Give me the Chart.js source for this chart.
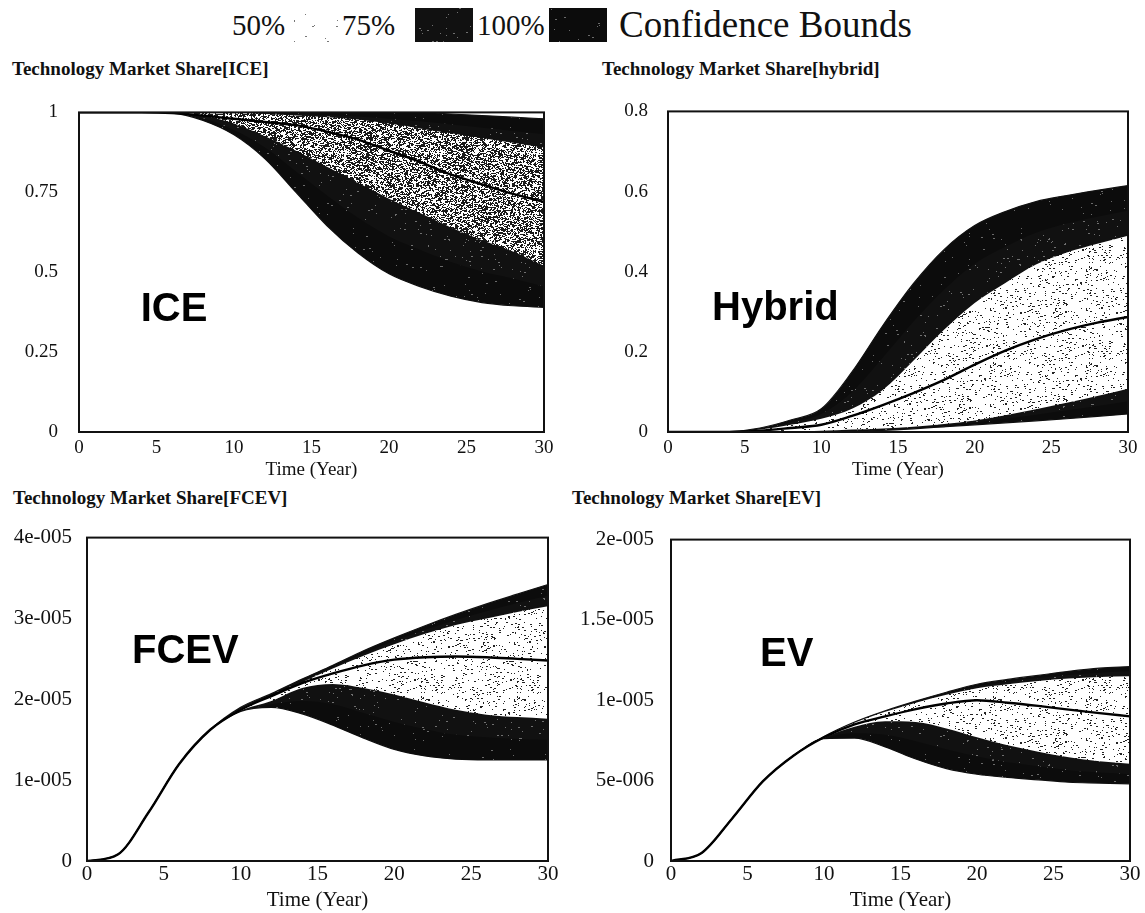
<!DOCTYPE html>
<html>
<head>
<meta charset="utf-8">
<script src="https://cdn.jsdelivr.net/npm/chart.js@4.4.1/dist/chart.umd.min.js"></script>
<style>
  body { margin: 0; background: #fff; width: 1145px; height: 913px; position: relative; overflow: hidden;
         font-family: "Liberation Serif", "Times New Roman", serif; color: #111; }
  canvas { position: absolute; }
  .panel-title { position: absolute; font-size: 19px; font-weight: bold; line-height: 20px; white-space: nowrap; }
  .lg-text { position: absolute; top: 8px; font-size: 29px; line-height: 34px; white-space: nowrap; }
  .lg-title { position: absolute; top: 4px; font-size: 37px; line-height: 42px; white-space: nowrap; }
  .lg-box { position: absolute; top: 8px; height: 34px; width: 58px; }
</style>
</head>
<body>
<div id="legend">
  <span class="lg-text" style="left:232px">50%</span>
  <div class="lg-box" id="box50" style="left:290px;width:48px"></div>
  <span class="lg-text" style="left:342px">75%</span>
  <div class="lg-box" id="box75" style="left:415px"></div>
  <span class="lg-text" style="left:477px">100%</span>
  <div class="lg-box" id="box100" style="left:549px"></div>
  <span class="lg-title" style="left:619px">Confidence Bounds</span>
</div>

<div class="panel-title" style="left:12px;top:59px">Technology Market Share[ICE]</div>
<div class="panel-title" style="left:602px;top:59px">Technology Market Share[hybrid]</div>
<div class="panel-title" style="left:13px;top:488px">Technology Market Share[FCEV]</div>
<div class="panel-title" style="left:572px;top:488px">Technology Market Share[EV]</div>

<canvas id="iceChart" width="572" height="410" style="left:0;top:80px"></canvas>
<canvas id="hybridChart" width="573" height="410" style="left:572px;top:80px"></canvas>
<canvas id="fcevChart" width="572" height="403" style="left:0;top:510px"></canvas>
<canvas id="evChart" width="573" height="403" style="left:572px;top:510px"></canvas>

<script>
// simulation time, years
const years = [0, 2, 4, 6, 8, 10, 12, 14, 16, 18, 20, 22, 24, 26, 28, 30];
const xTicks = [0, 5, 10, 15, 20, 25, 30];

// ICE market share (fraction)
const ice100U = [1, 1, 1, 1, 1, 1, 1, 1, 1, 1, 1, 1, 0.995, 0.99, 0.985, 0.98];
const ice75U  = [1, 1, 1, 1, 1, 1, 0.998, 0.995, 0.992, 0.987, 0.98, 0.972, 0.962, 0.952, 0.942, 0.932];
const ice50U  = [1, 1, 1, 1, 1, 1, 0.995, 0.99, 0.985, 0.978, 0.965, 0.95, 0.935, 0.92, 0.905, 0.89];
const iceMed  = [1, 1, 1, 0.998, 0.99, 0.98, 0.97, 0.96, 0.94, 0.915, 0.88, 0.845, 0.805, 0.775, 0.745, 0.72];
const ice50L  = [1, 1, 1, 0.999, 0.99, 0.965, 0.925, 0.88, 0.83, 0.78, 0.73, 0.685, 0.64, 0.6, 0.565, 0.52];
const ice75L  = [1, 1, 1, 0.999, 0.982, 0.945, 0.89, 0.815, 0.74, 0.67, 0.612, 0.57, 0.532, 0.502, 0.48, 0.455];
const ice100L = [1, 1, 1, 0.998, 0.975, 0.93, 0.855, 0.75, 0.645, 0.56, 0.495, 0.455, 0.425, 0.405, 0.395, 0.39];
const iceTicks = [0, 0.25, 0.5, 0.75, 1];
const iceTickLabels = ['0', '0.25', '0.5', '0.75', '1'];

// hybrid market share (fraction)
const hyb100U = [0, 0, 0.001, 0.01, 0.03, 0.058, 0.15, 0.265, 0.37, 0.455, 0.515, 0.55, 0.575, 0.59, 0.603, 0.615];
const hyb75U  = [0, 0, 0.001, 0.008, 0.024, 0.045, 0.1, 0.185, 0.275, 0.355, 0.42, 0.462, 0.497, 0.52, 0.537, 0.553];
const hyb50U  = [0, 0, 0, 0.006, 0.018, 0.033, 0.058, 0.105, 0.178, 0.255, 0.322, 0.372, 0.418, 0.448, 0.47, 0.49];
const hybMed  = [0, 0, 0, 0.003, 0.01, 0.018, 0.04, 0.067, 0.097, 0.13, 0.168, 0.203, 0.232, 0.255, 0.273, 0.287];
const hyb50L  = [0, 0, 0, 0, 0.001, 0.003, 0.006, 0.009, 0.013, 0.02, 0.029, 0.042, 0.057, 0.073, 0.09, 0.108];
const hyb75L  = [0, 0, 0, 0, 0.001, 0.002, 0.004, 0.007, 0.011, 0.017, 0.024, 0.033, 0.043, 0.054, 0.065, 0.077];
const hyb100L = [0, 0, 0, 0, 0, 0.001, 0.002, 0.004, 0.008, 0.013, 0.018, 0.023, 0.028, 0.033, 0.039, 0.045];
const hybTicks = [0, 0.2, 0.4, 0.6, 0.8];
const hybTickLabels = ['0', '0.2', '0.4', '0.6', '0.8'];

// FCEV market share, in units of 1e-5
const FCEV_UNIT = 1e-5;
const fcev100U = [0, 0.08, 0.6, 1.2, 1.62, 1.9, 2.07, 2.25, 2.42, 2.6, 2.76, 2.91, 3.05, 3.18, 3.3, 3.42];
const fcev75U  = [0, 0.08, 0.6, 1.2, 1.62, 1.89, 2.055, 2.23, 2.4, 2.57, 2.72, 2.86, 2.98, 3.09, 3.19, 3.28];
const fcev50U  = [0, 0.08, 0.6, 1.2, 1.62, 1.88, 2.04, 2.21, 2.38, 2.54, 2.68, 2.81, 2.92, 3.0, 3.08, 3.15];
const fcevMed  = [0, 0.08, 0.6, 1.2, 1.62, 1.87, 2.04, 2.2, 2.32, 2.42, 2.49, 2.52, 2.53, 2.52, 2.5, 2.48];
const fcev50L  = [0, 0.08, 0.6, 1.2, 1.62, 1.86, 1.98, 2.14, 2.19, 2.14, 2.06, 1.96, 1.87, 1.81, 1.78, 1.76];
const fcev75L  = [0, 0.08, 0.6, 1.2, 1.62, 1.855, 1.94, 1.98, 1.94, 1.83, 1.72, 1.63, 1.56, 1.53, 1.51, 1.5];
const fcev100L = [0, 0.08, 0.6, 1.2, 1.62, 1.85, 1.9, 1.82, 1.68, 1.52, 1.38, 1.3, 1.26, 1.25, 1.25, 1.25];
const fcevTicks = [0, 1e-5, 2e-5, 3e-5, 4e-5];
const fcevTickLabels = ['0', '1e-005', '2e-005', '3e-005', '4e-005'];

// EV market share, in units of 1e-6
const EV_UNIT = 1e-6;
const ev100U = [0, 0.5, 2.65, 4.95, 6.55, 7.75, 8.65, 9.35, 9.95, 10.5, 11.0, 11.3, 11.55, 11.8, 12.0, 12.1];
const ev75U  = [0, 0.5, 2.65, 4.95, 6.55, 7.73, 8.62, 9.31, 9.9, 10.42, 10.87, 11.15, 11.38, 11.57, 11.72, 11.8];
const ev50U  = [0, 0.5, 2.65, 4.95, 6.55, 7.72, 8.6, 9.28, 9.85, 10.35, 10.75, 11.0, 11.2, 11.35, 11.45, 11.5];
const evMed  = [0, 0.5, 2.65, 4.95, 6.55, 7.7, 8.5, 9.0, 9.45, 9.8, 10.0, 9.85, 9.65, 9.42, 9.2, 9.0];
const ev50L  = [0, 0.5, 2.65, 4.95, 6.55, 7.65, 8.35, 8.7, 8.65, 8.25, 7.7, 7.2, 6.8, 6.45, 6.2, 6.05];
const ev75L  = [0, 0.5, 2.65, 4.95, 6.55, 7.63, 7.95, 7.85, 7.45, 6.95, 6.5, 6.15, 5.9, 5.65, 5.5, 5.4];
const ev100L = [0, 0.5, 2.65, 4.95, 6.55, 7.62, 7.65, 7.1, 6.35, 5.75, 5.4, 5.2, 5.05, 4.9, 4.85, 4.8];
const evTicks = [0, 5e-6, 1e-5, 1.5e-5, 2e-5];
const evTickLabels = ['0', '5e-006', '1e-005', '1.5e-005', '2e-005'];

const SERIF = '"Liberation Serif", "Times New Roman", serif';

// deterministic speckle texture for the band fills
function hash(x, y, seed) {
  let h = Math.imul(x, 374761393) + Math.imul(y, 668265263) + Math.imul(seed, 982451653);
  h = Math.imul(h ^ (h >>> 13), 1274126177);
  h ^= h >>> 16;
  return (h >>> 0) / 4294967295;
}

function speckleTile(bg, dot, density, seed) {
  const size = 96;
  const c = document.createElement('canvas');
  c.width = c.height = size;
  const g = c.getContext('2d');
  g.fillStyle = bg;
  g.fillRect(0, 0, size, size);
  g.fillStyle = dot;
  for (let y = 0; y < size; y++) {
    for (let x = 0; x < size; x++) {
      if (hash(x, y, seed) < density) {
        g.fillRect(x, y, hash(y, x, seed + 7) < 0.35 ? 2 : 1, 1);
      }
    }
  }
  return c;
}

const patCtx = document.createElement('canvas').getContext('2d');
const tiles = {
  dark100: speckleTile('#0c0c0c', '#6a6a6a', 0.008, 1),
  dark75: speckleTile('#111111', '#707070', 0.012, 2),
  denseDots: speckleTile('#ffffff', '#1a1a1a', 0.42, 3),
  sparseDots: speckleTile('#ffffff', '#222222', 0.06, 4),
  faintDots: speckleTile('#ffffff', '#777777', 0.006, 5)
};
const pattern = name => patCtx.createPattern(tiles[name], 'repeat');

// legend swatches
document.getElementById('box50').style.backgroundImage = `url(${tiles.faintDots.toDataURL()})`;
document.getElementById('box75').style.backgroundImage = `url(${tiles.dark75.toDataURL()})`;
document.getElementById('box100').style.backgroundImage = `url(${tiles.dark100.toDataURL()})`;

// plot frame and the big technology name inside each panel
const framePlugin = {
  id: 'frame',
  afterDraw(chart, args, opts) {
    const { ctx, chartArea: a, scales } = chart;
    ctx.save();
    ctx.lineWidth = 2;
    ctx.strokeStyle = '#111';
    ctx.strokeRect(a.left, a.top, a.right - a.left, a.bottom - a.top);
    ctx.font = 'bold 40px "Liberation Sans", Arial, sans-serif';
    ctx.fillStyle = '#000';
    ctx.textBaseline = 'middle';
    ctx.fillText(opts.text, scales.x.getPixelForValue(opts.x), scales.y.getPixelForValue(opts.y));
    ctx.restore();
  }
};

function buildPanel(id, s, unit, yTicks, yLabels, name, box, innerFill) {
  const pts = arr => arr.map((v, i) => ({ x: years[i], y: v * unit }));
  const line = (arr, fill, order, bg, width, color) => ({
    data: pts(arr),
    fill: fill,
    order: order,
    backgroundColor: bg,
    borderColor: color || '#111',
    borderWidth: width,
    pointRadius: 0,
    cubicInterpolationMode: 'monotone'
  });
  const datasets = [
    line(s.u100, '+1', 3, pattern('dark100'), 1.2),
    line(s.l100, false, 3, pattern('dark100'), 1.2),
    line(s.u75, '+1', 2, pattern('dark75'), 0),
    line(s.l75, false, 2, pattern('dark75'), 0),
    line(s.u50, '+1', 1, pattern(innerFill), 0),
    line(s.l50, false, 1, pattern(innerFill), 0),
    line(s.med, false, 0, 'transparent', 2.4, '#000')
  ];
  const tickFont = { family: SERIF, size: box.font };

  new Chart(document.getElementById(id), {
    type: 'line',
    data: { datasets },
    plugins: [framePlugin],
    options: {
      responsive: false,
      animation: false,
      devicePixelRatio: 1,
      layout: { padding: { left: 0, top: box.top, right: box.right, bottom: 0 } },
      plugins: {
        legend: { display: false },
        tooltip: { enabled: false },
        frame: name
      },
      scales: {
        x: {
          type: 'linear',
          min: 0,
          max: 30,
          grid: { display: false, drawTicks: false },
          border: { display: false },
          afterBuildTicks: sc => { sc.ticks = xTicks.map(v => ({ value: v })); },
          afterFit: sc => { sc.height = box.xh; },
          ticks: { color: '#111', padding: box.xpad, maxRotation: 0, font: tickFont,
                   callback: v => String(v) },
          title: { display: true, text: 'Time (Year)', color: '#111', padding: { top: 0, bottom: box.tpad },
                   font: tickFont }
        },
        y: {
          type: 'linear',
          min: yTicks[0],
          max: yTicks[yTicks.length - 1],
          grid: { display: false, drawTicks: false },
          border: { display: false },
          afterBuildTicks: sc => { sc.ticks = yTicks.map(v => ({ value: v })); },
          afterFit: sc => { sc.width = box.yw; },
          ticks: { color: '#111', padding: box.ypad, font: tickFont,
                   callback: (v, i) => yLabels[i] }
        }
      }
    }
  });
}

buildPanel('iceChart',
  { u100: ice100U, u75: ice75U, u50: ice50U, med: iceMed, l50: ice50L, l75: ice75L, l100: ice100L },
  1, iceTicks, iceTickLabels,
  { text: 'ICE', x: 3.98, y: 0.383 },
  { top: 13, right: 28, yw: 79, xh: 58, xpad: 5, tpad: 9, ypad: 21, font: 19 },
  'denseDots');

buildPanel('hybridChart',
  { u100: hyb100U, u75: hyb75U, u50: hyb50U, med: hybMed, l50: hyb50L, l75: hyb75L, l100: hyb100L },
  1, hybTicks, hybTickLabels,
  { text: 'Hybrid', x: 2.87, y: 0.306 },
  { top: 12, right: 17, yw: 96, xh: 58, xpad: 5, tpad: 9, ypad: 20, font: 19 },
  'sparseDots');

buildPanel('fcevChart',
  { u100: fcev100U, u75: fcev75U, u50: fcev50U, med: fcevMed, l50: fcev50L, l75: fcev75L, l100: fcev100L },
  FCEV_UNIT, fcevTicks, fcevTickLabels,
  { text: 'FCEV', x: 2.93, y: 2.58e-5 },
  { top: 12, right: 24, yw: 87, xh: 52, xpad: 1, tpad: 0, ypad: 15, font: 21 },
  'sparseDots');

buildPanel('evChart',
  { u100: ev100U, u75: ev75U, u50: ev50U, med: evMed, l50: ev50L, l75: ev75L, l100: ev100L },
  EV_UNIT, evTicks, evTickLabels,
  { text: 'EV', x: 5.82, y: 1.284e-5 },
  { top: 13, right: 15, yw: 99, xh: 52, xpad: 1, tpad: 0, ypad: 17, font: 21 },
  'sparseDots');
</script>
</body>
</html>
